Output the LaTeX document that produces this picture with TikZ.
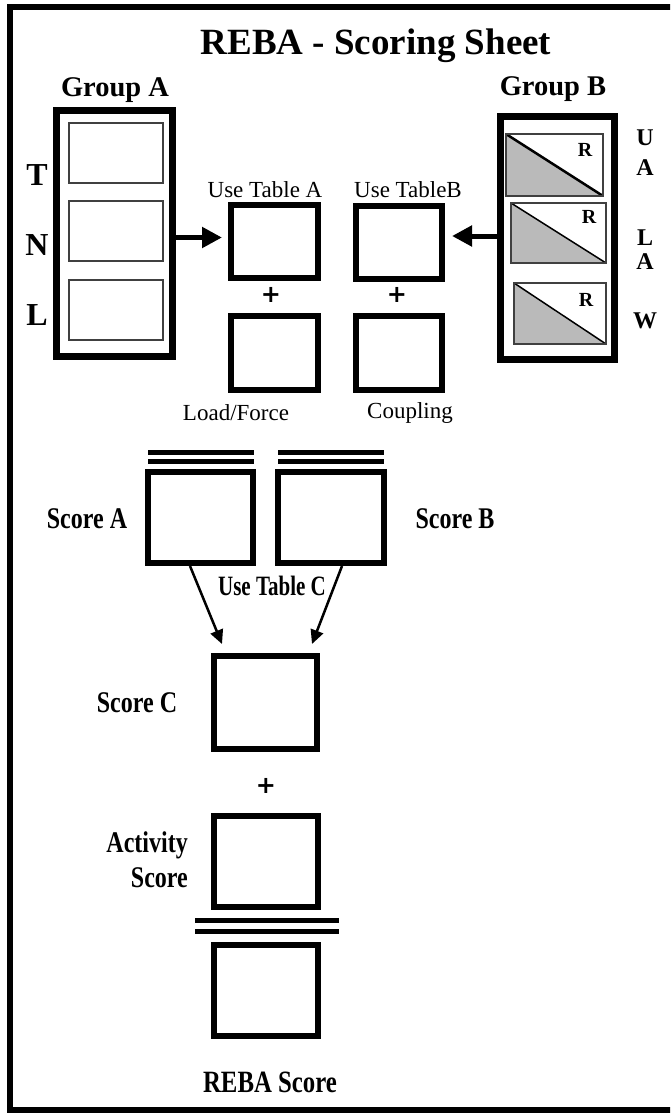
\documentclass[tikz,border=0pt]{standalone}
\usepackage{fontspec}
\setmainfont{Liberation Serif}
\newfontfamily\plusfont{DejaVu Sans}
\usetikzlibrary{arrows.meta}
\newcommand\sqz[2][0.8]{\scalebox{#1}[1]{#2}}
\tikzset{
  frame/.style={draw=black, line width=6pt},
  sbox/.style={draw=black, line width=6pt, inner sep=0pt},
  gbox/.style={draw=black, line width=7pt, inner sep=0pt},
  thinbox/.style={draw=black!75, line width=2pt, inner sep=0pt, outer sep=0pt},
  diag/.style={path picture={
      \fill[black!27] (path picture bounding box.north west) -- (path picture bounding box.south west) -- (path picture bounding box.south east) -- cycle;
      \draw[black, line width=#1] (path picture bounding box.north west) -- (path picture bounding box.south east);}},
  lbl/.style={inner sep=0pt, anchor=base},
  plus/.style={inner sep=0pt, font=\plusfont\fontsize{24}{26}\selectfont\bfseries},
  dbl/.style={draw=black, line width=5pt},
  bigarr/.style={draw=black, line width=5pt, -{Triangle[length=20pt,width=20pt]}},
  smarr/.style={draw=black, line width=2.5pt, -{Triangle[length=14pt,width=13pt]}},
}
\begin{document}
\begin{tikzpicture}[x=1pt,y=-1pt]
\useasboundingbox (0,0) rectangle (670,1113);
\clip (0,0) rectangle (670,1113);
\fill[white] (0,0) rectangle (670,1113);
\draw[frame] (10,7.5) rectangle (700,1110);

% title
\node[lbl, font=\fontsize{37}{40}\selectfont\bfseries] (title) at (376,55) {REBA - Scoring Sheet};

% group A
\node[lbl, font=\fontsize{28.5}{30}\selectfont\bfseries] (gAlbl) at (115,97) {Group A};
\node[gbox, minimum width=116pt, minimum height=246pt] (ga) at (114.5,233.5) {};
\node[thinbox, minimum width=94pt, minimum height=60pt] (a1) at (116,153) {};
\node[thinbox, minimum width=94pt, minimum height=60pt] (a2) at (116,231) {};
\node[thinbox, minimum width=94pt, minimum height=60pt] (a3) at (116,310) {};
\node[lbl, font=\fontsize{32}{34}\selectfont\bfseries] (tT) at (37,185) {T};
\node[lbl, font=\fontsize{32}{34}\selectfont\bfseries] (tN) at (37,255) {N};
\node[lbl, font=\fontsize{32}{34}\selectfont\bfseries] (tL) at (37,325) {L};

% group B
\node[lbl, font=\fontsize{28.5}{30}\selectfont\bfseries] (gBlbl) at (553,96) {Group B};
\node[gbox, minimum width=114pt, minimum height=243pt] (gb) at (557.5,238) {};
\node[thinbox, diag=2.5pt, minimum width=97pt, minimum height=62pt] (b1) at (554.5,165) {};
\node[thinbox, diag=1.5pt, minimum width=95pt, minimum height=60pt] (b2) at (558.5,233) {};
\node[thinbox, diag=1.5pt, minimum width=92pt, minimum height=61pt] (b3) at (560,313.5) {};
\node[lbl, font=\fontsize{20}{22}\selectfont\bfseries] (r1) at (585,157) {R};
\node[lbl, font=\fontsize{20}{22}\selectfont\bfseries] (r2) at (589,223) {R};
\node[lbl, font=\fontsize{20}{22}\selectfont\bfseries] (r3) at (586,306) {R};
\node[lbl, font=\fontsize{24}{26}\selectfont\bfseries] (tU1) at (645,146) {U};
\node[lbl, font=\fontsize{24}{26}\selectfont\bfseries] (tA1) at (645,175) {A};
\node[lbl, font=\fontsize{24}{26}\selectfont\bfseries] (tL2) at (645,245) {L};
\node[lbl, font=\fontsize{24}{26}\selectfont\bfseries] (tA2) at (645,269) {A};
\node[lbl, font=\fontsize{24}{26}\selectfont\bfseries] (tW) at (645,328) {W};

% tables A / B
\node[lbl, font=\fontsize{23}{25}\selectfont] (utA) at (265,197) {Use Table A};
\node[lbl, font=\fontsize{23}{25}\selectfont] (utB) at (408,197) {Use TableB};
\node[sbox, minimum width=87pt, minimum height=73pt] (ta) at (274.5,241.5) {};
\node[sbox, minimum width=87pt, minimum height=74pt] (lf) at (274.5,353) {};
\node[sbox, minimum width=86pt, minimum height=73pt] (tb) at (399,242.5) {};
\node[sbox, minimum width=86pt, minimum height=74pt] (cp) at (399,353) {};
\node[plus] (plA) at (271,295) {+};
\node[plus] (plB) at (397,295) {+};
\node[lbl, font=\fontsize{23}{25}\selectfont] (lfl) at (236,420) {Load/Force};
\node[lbl, font=\fontsize{23}{25}\selectfont] (cpl) at (410,418) {Coupling};

\draw[bigarr, shorten >=6pt] ([yshift=-4pt]ga.east) -- ([yshift=4pt]ta.west);
\draw[bigarr, shorten >=7pt] ([yshift=2pt]gb.west) -- ([yshift=6.5pt]tb.east);

% score A / B
\draw[dbl] (148,452.5) -- (254,452.5);
\draw[dbl] (148,461) -- (254,461);
\draw[dbl] (278,452.5) -- (384,452.5);
\draw[dbl] (278,461) -- (384,461);
\node[sbox, minimum width=105pt, minimum height=91pt] (sa) at (200.5,517.5) {};
\node[sbox, minimum width=106pt, minimum height=91pt] (sb) at (331,517.5) {};
\node[lbl, font=\fontsize{30}{32}\selectfont\bfseries] (sal) at (87,528) {\sqz{Score A}};
\node[lbl, font=\fontsize{30}{32}\selectfont\bfseries] (sbl) at (455,528) {\sqz{Score B}};
\node[lbl, font=\fontsize{28}{30}\selectfont\bfseries] (utC) at (272,595) {\sqz[0.75]{Use Table C}};

% score C
\node[sbox, minimum width=103pt, minimum height=93pt] (sc) at (265.5,702.5) {};
\node[lbl, font=\fontsize{30}{32}\selectfont\bfseries] (scl) at (137,712) {\sqz{Score C}};
\draw[smarr] ([xshift=-10.5pt]sa.south) -- ([xshift=-43.5pt,yshift=9pt]sc.north);
\draw[smarr] ([xshift=11pt]sb.south) -- ([xshift=46.5pt,yshift=9pt]sc.north);

% activity
\node[plus] (plC) at (266,786) {+};
\node[sbox, minimum width=104pt, minimum height=91pt] (act) at (266,861.5) {};
\node[inner sep=0pt, anchor=base east, font=\fontsize{30}{32}\selectfont\bfseries] (actl1) at (188,852) {\sqz{Activity}};
\node[inner sep=0pt, anchor=base east, font=\fontsize{30}{32}\selectfont\bfseries] (actl2) at (188,887) {\sqz{Score}};
\draw[dbl] (195,920) -- (339,920);
\draw[dbl] (195,931) -- (339,931);

% REBA score
\node[sbox, minimum width=104pt, minimum height=91pt] (reba) at (266,990.5) {};
\node[lbl, font=\fontsize{31}{33}\selectfont\bfseries] (rebal) at (270,1092) {\sqz{REBA Score}};
\end{tikzpicture}
\end{document}
